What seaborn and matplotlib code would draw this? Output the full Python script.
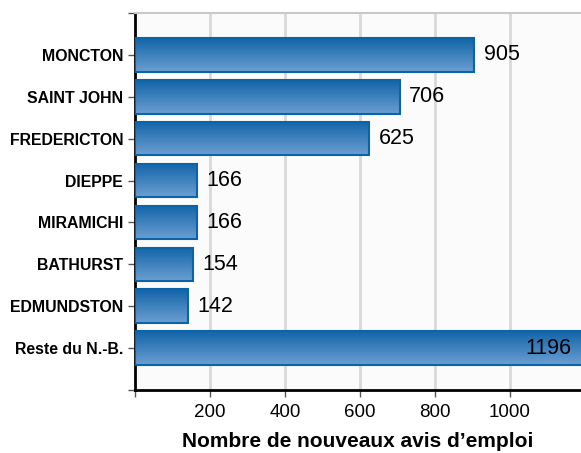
import numpy as np
import pandas as pd
import matplotlib
matplotlib.use("Agg")
import matplotlib.pyplot as plt
import seaborn as sns
from matplotlib.colors import LinearSegmentedColormap

# data
villes = ["MONCTON", "SAINT JOHN", "FREDERICTON", "DIEPPE", "MIRAMICHI",
          "BATHURST", "EDMUNDSTON", "Reste du N.-B."]
avis = [905, 706, 625, 166, 166, 154, 142, 1196]
xticks = [200, 400, 600, 800, 1000]

dtf = pd.DataFrame({"ville": villes, "avis": avis})

sns.set_theme(style="white")
plt.rcParams["font.family"] = ["Liberation Sans", "DejaVu Sans"]
plt.rcParams["text.color"] = "black"
plt.rcParams["xtick.color"] = "black"
plt.rcParams["ytick.color"] = "black"
plt.rcParams["axes.labelcolor"] = "black"

fig = plt.figure(figsize=(5.81, 4.53), dpi=100)
ax = fig.add_axes([0.2324, 0.139, 0.7676, 0.8323])
ax.set_facecolor("#fbfbfb")

sns.barplot(data=dtf, x="avis", y="ville", orient="h", ax=ax, width=0.8,
            color="#2f78b8", edgecolor="#0a64aa", linewidth=1.5, zorder=3)

# gradient fill on each bar
cmap = LinearSegmentedColormap.from_list("bleu", ["#1264a8", "#6b9fd2"])
grad = np.linspace(0, 1, 100).reshape(-1, 1)
for p in ax.patches:
    x0, y0 = p.get_x(), p.get_y()
    w, h = p.get_width(), p.get_height()
    im = ax.imshow(grad, cmap=cmap, aspect="auto", extent=[x0, x0 + w, y0 + h, y0],
                   origin="upper", zorder=3.5)
    im.set_clip_path(p)
    p.set_facecolor("none")
    p.set_zorder(4)

ax.set_xlim(0, 1190)
ax.set_ylim(8, -1)

# value labels
for i, v in enumerate(avis):
    if v > 1100:
        ax.text(1163, i, str(v), va="center", ha="right", fontsize=15.5, zorder=5)
    else:
        ax.text(v + 25, i, str(v), va="center", ha="left", fontsize=15.5, zorder=5)

ax.set_xticks(xticks)
ax.set_xticklabels([str(t) for t in xticks], fontsize=13.5)
ax.set_xticks([0], minor=True)
ax.set_yticks(range(len(villes)))
ax.set_yticklabels(villes, fontsize=11.4, fontweight="bold")
ax.set_yticks([-1, 8], minor=True)
ax.tick_params(axis="both", which="both", length=5, width=1, color="#555555",
               direction="out", left=True, bottom=True)
ax.tick_params(axis="x", pad=5)
ax.grid(axis="x", color="#d9d9d9", linewidth=2, zorder=0)
ax.set_axisbelow(True)

for s in ["left", "bottom"]:
    ax.spines[s].set_color("black")
    ax.spines[s].set_linewidth(2)
ax.spines["top"].set_color("#c8c8c8")
ax.spines["top"].set_linewidth(1.5)
ax.spines["right"].set_visible(False)

ax.set_ylabel("")
ax.set_xlabel("Nombre de nouveaux avis d\u2019emploi", fontsize=15,
              fontweight="bold", labelpad=8)

fig.savefig("out.png", dpi=100)
